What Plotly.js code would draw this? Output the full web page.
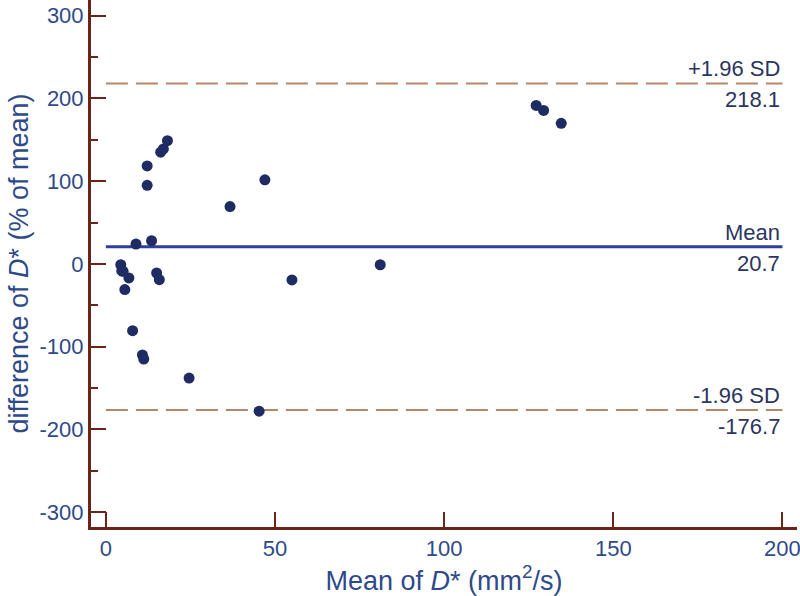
<!DOCTYPE html>
<html>
<head>
<meta charset="utf-8">
<script src="https://cdn.plot.ly/plotly-3.0.1.min.js"></script>
<style>html,body{margin:0;padding:0;background:#fff;}#chart{width:800px;height:596px;}</style>
</head>
<body>
<div id="chart"></div>
<script>
// Data
const meanD = [18.2, 17.0, 16.2, 12.2, 12.2, 8.9, 13.5, 4.4, 4.7, 5.1, 6.8, 5.6, 15.0, 15.8,
               7.9, 10.8, 11.2, 24.6, 36.7, 47.0, 55.0, 81.1, 45.3, 127.2, 129.4, 134.6];
const diffPct = [149, 139, 135, 118.5, 95, 24, 28, -1, -8.5, -9, -17, -31, -11, -19,
                 -80.7, -110, -115, -138, 69.3, 101.6, -19.4, -1, -178, 191.5, 185.5, 170];
const meanDiff = 20.7;
const upperLoA = 218.1;
const lowerLoA = -176.7;
const lineX = [0, 200];
const xTicks = [0, 50, 100, 150, 200];
const yTicks = [-300, -200, -100, 0, 100, 200, 300];
const yTickText = ['-300', '-200', '-100', '0', '100', '200', '300'];

const axisColor = '#6a2418';
const textColor = '#2f4a8a';
const labelColor = '#2b3560';
const font = 'Liberation Sans, Arial, sans-serif';

const traces = [
  {x: lineX, y: [upperLoA, upperLoA], mode: 'lines', line: {color: '#b5876a', width: 2, dash: '22px,8px'}, hoverinfo: 'skip'},
  {x: lineX, y: [lowerLoA, lowerLoA], mode: 'lines', line: {color: '#b5876a', width: 2, dash: '22px,8px'}, hoverinfo: 'skip'},
  {x: lineX, y: [meanDiff, meanDiff], mode: 'lines', line: {color: '#2e3f9e', width: 3}, hoverinfo: 'skip'},
  {x: meanD, y: diffPct, mode: 'markers', marker: {color: '#1f2b63', size: 11}}
];

const lbl = (y, t, above) => ({
  x: 200, y: y, xref: 'x', yref: 'y', text: t, showarrow: false,
  xanchor: 'right', yanchor: above ? 'bottom' : 'top', yshift: above ? 0 : -2,
  font: {family: font, size: 22, color: labelColor}
});

const layout = {
  width: 800, height: 596,
  margin: {l: 91, r: 3, t: 0, b: 69},
  paper_bgcolor: '#fff', plot_bgcolor: '#fff',
  showlegend: false,
  xaxis: {
    range: [-4.4, 204.3], tickvals: xTicks, ticks: 'inside', ticklen: 15, tickwidth: 2, tickcolor: axisColor,
    showline: true, linecolor: axisColor, linewidth: 3, showgrid: false, zeroline: false,
    ticklabeloverflow: 'allow', automargin: false,
    tickfont: {family: font, size: 22, color: textColor},
    title: {text: 'Mean of <i>D</i>* (mm<sup>2</sup>/s)', font: {family: font, size: 27, color: textColor}, standoff: 4}
  },
  yaxis: {
    range: [-318, 319], tickvals: yTicks, ticktext: yTickText, ticks: 'inside', ticklen: 15, tickwidth: 2, tickcolor: axisColor,
    minor: {dtick: 50, tick0: 0, ticks: 'inside', ticklen: 7, tickwidth: 2, tickcolor: axisColor, showgrid: false},
    showline: true, linecolor: axisColor, linewidth: 3, showgrid: false, zeroline: false,
    ticklabeloverflow: 'allow', automargin: false,
    tickfont: {family: font, size: 22, color: textColor},
    title: {text: 'difference of <i>D</i>* (% of mean)', font: {family: font, size: 27, color: textColor}, standoff: 4}
  },
  annotations: [
    lbl(upperLoA, '+1.96 SD', true), lbl(upperLoA, '218.1', false),
    lbl(meanDiff, 'Mean', true), lbl(meanDiff, '20.7', false),
    lbl(lowerLoA, '-1.96 SD', true), lbl(lowerLoA, '-176.7', false)
  ]
};

Plotly.newPlot('chart', traces, layout, {displayModeBar: false, staticPlot: true});
</script>
</body>
</html>
